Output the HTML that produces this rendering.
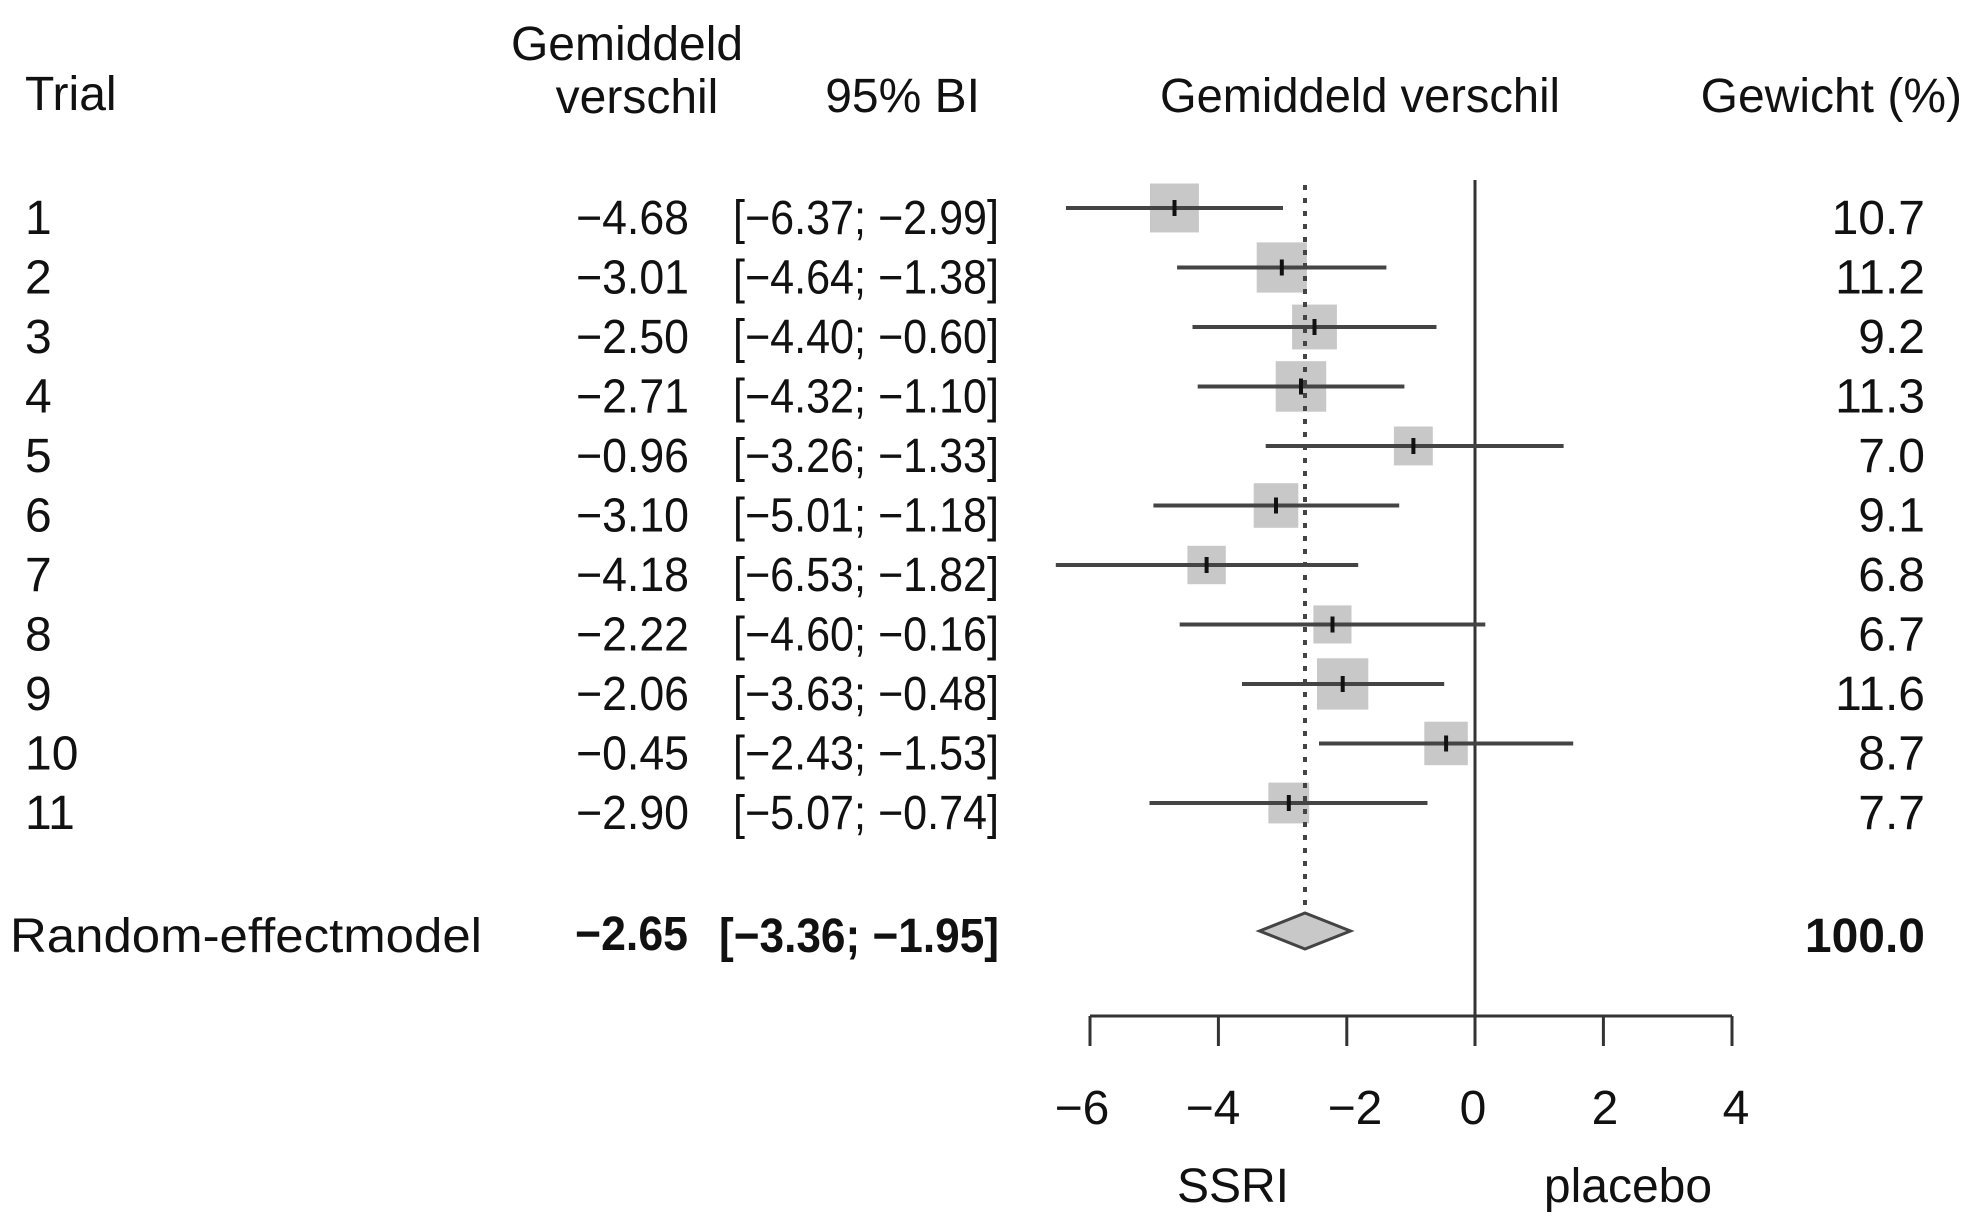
<!DOCTYPE html>
<html><head><meta charset="utf-8"><style>
html,body{margin:0;padding:0;background:#fff;}
svg{display:block;}
text{font-family:"Liberation Sans",sans-serif;fill:#111;font-size:48px;}
</style></head><body>
<svg width="1971" height="1222" viewBox="0 0 1971 1222" xmlns="http://www.w3.org/2000/svg">
<text x="25" y="110" font-size="50">Trial</text>
<text x="627" y="60" text-anchor="middle">Gemiddeld</text>
<text x="637" y="113" text-anchor="middle">verschil</text>
<text x="980" y="112" text-anchor="end">95% BI</text>
<text x="1360" y="112" text-anchor="middle" textLength="400" lengthAdjust="spacingAndGlyphs">Gemiddeld verschil</text>
<text x="1962" y="112" text-anchor="end">Gewicht (%)</text>

<g font-size="50">
<g text-anchor="end">
<text x="25" y="234" text-anchor="start">1</text><text x="689" y="234" textLength="113" lengthAdjust="spacingAndGlyphs">−4.68</text><text x="999" y="234" textLength="266" lengthAdjust="spacingAndGlyphs">[−6.37; −2.99]</text><text x="1925" y="234">10.7</text>
<text x="25" y="293.5" text-anchor="start">2</text><text x="689" y="293.5" textLength="113" lengthAdjust="spacingAndGlyphs">−3.01</text><text x="999" y="293.5" textLength="266" lengthAdjust="spacingAndGlyphs">[−4.64; −1.38]</text><text x="1925" y="293.5">11.2</text>
<text x="25" y="353" text-anchor="start">3</text><text x="689" y="353" textLength="113" lengthAdjust="spacingAndGlyphs">−2.50</text><text x="999" y="353" textLength="266" lengthAdjust="spacingAndGlyphs">[−4.40; −0.60]</text><text x="1925" y="353">9.2</text>
<text x="25" y="412.5" text-anchor="start">4</text><text x="689" y="412.5" textLength="113" lengthAdjust="spacingAndGlyphs">−2.71</text><text x="999" y="412.5" textLength="266" lengthAdjust="spacingAndGlyphs">[−4.32; −1.10]</text><text x="1925" y="412.5">11.3</text>
<text x="25" y="472" text-anchor="start">5</text><text x="689" y="472" textLength="113" lengthAdjust="spacingAndGlyphs">−0.96</text><text x="999" y="472" textLength="266" lengthAdjust="spacingAndGlyphs">[−3.26; −1.33]</text><text x="1925" y="472">7.0</text>
<text x="25" y="531.5" text-anchor="start">6</text><text x="689" y="531.5" textLength="113" lengthAdjust="spacingAndGlyphs">−3.10</text><text x="999" y="531.5" textLength="266" lengthAdjust="spacingAndGlyphs">[−5.01; −1.18]</text><text x="1925" y="531.5">9.1</text>
<text x="25" y="591" text-anchor="start">7</text><text x="689" y="591" textLength="113" lengthAdjust="spacingAndGlyphs">−4.18</text><text x="999" y="591" textLength="266" lengthAdjust="spacingAndGlyphs">[−6.53; −1.82]</text><text x="1925" y="591">6.8</text>
<text x="25" y="650.5" text-anchor="start">8</text><text x="689" y="650.5" textLength="113" lengthAdjust="spacingAndGlyphs">−2.22</text><text x="999" y="650.5" textLength="266" lengthAdjust="spacingAndGlyphs">[−4.60; −0.16]</text><text x="1925" y="650.5">6.7</text>
<text x="25" y="710" text-anchor="start">9</text><text x="689" y="710" textLength="113" lengthAdjust="spacingAndGlyphs">−2.06</text><text x="999" y="710" textLength="266" lengthAdjust="spacingAndGlyphs">[−3.63; −0.48]</text><text x="1925" y="710">11.6</text>
<text x="25" y="769.5" text-anchor="start">10</text><text x="689" y="769.5" textLength="113" lengthAdjust="spacingAndGlyphs">−0.45</text><text x="999" y="769.5" textLength="266" lengthAdjust="spacingAndGlyphs">[−2.43; −1.53]</text><text x="1925" y="769.5">8.7</text>
<text x="25" y="829" text-anchor="start">11</text><text x="689" y="829" textLength="113" lengthAdjust="spacingAndGlyphs">−2.90</text><text x="999" y="829" textLength="266" lengthAdjust="spacingAndGlyphs">[−5.07; −0.74]</text><text x="1925" y="829">7.7</text>
</g>
</g>

<g fill="#c8c8c8">
<rect x="1150.0" y="183.5" width="48.9" height="48.9"/>
<rect x="1256.7" y="242.4" width="50.2" height="50.2"/>
<rect x="1292.1" y="304.6" width="44.8" height="44.8"/>
<rect x="1275.7" y="361.2" width="50.5" height="50.5"/>
<rect x="1393.9" y="426.5" width="38.9" height="38.9"/>
<rect x="1253.7" y="483.2" width="44.6" height="44.6"/>
<rect x="1187.4" y="545.8" width="38.4" height="38.4"/>
<rect x="1313.4" y="605.4" width="38.1" height="38.1"/>
<rect x="1317.0" y="658.3" width="51.3" height="51.3"/>
<rect x="1424.3" y="721.7" width="43.5" height="43.5"/>
<rect x="1268.4" y="782.6" width="40.8" height="40.8"/>
</g>
<line x1="1475" y1="180" x2="1475" y2="1016" stroke="#333" stroke-width="3"/>
<line x1="1305" y1="185" x2="1305" y2="913" stroke="#444" stroke-width="4" stroke-dasharray="5,8"/>
<g stroke="#444" stroke-width="4">
<line x1="1066.0" y1="208" x2="1283.0" y2="208"/>
<line x1="1177.1" y1="267.5" x2="1386.4" y2="267.5"/>
<line x1="1192.5" y1="327" x2="1436.5" y2="327"/>
<line x1="1197.7" y1="386.5" x2="1404.4" y2="386.5"/>
<line x1="1265.7" y1="446" x2="1563.6" y2="446"/>
<line x1="1153.4" y1="505.5" x2="1399.2" y2="505.5"/>
<line x1="1055.8" y1="565" x2="1358.2" y2="565"/>
<line x1="1179.7" y1="624.5" x2="1485.3" y2="624.5"/>
<line x1="1242.0" y1="684" x2="1444.2" y2="684"/>
<line x1="1319.0" y1="743.5" x2="1573.2" y2="743.5"/>
<line x1="1149.5" y1="803" x2="1427.5" y2="803"/>
</g>
<g stroke="#111" stroke-width="4">
<line x1="1174.5" y1="200" x2="1174.5" y2="216"/>
<line x1="1281.8" y1="259.5" x2="1281.8" y2="275.5"/>
<line x1="1314.5" y1="319" x2="1314.5" y2="335"/>
<line x1="1301.0" y1="378.5" x2="1301.0" y2="394.5"/>
<line x1="1413.4" y1="438" x2="1413.4" y2="454"/>
<line x1="1276.0" y1="497.5" x2="1276.0" y2="513.5"/>
<line x1="1206.6" y1="557" x2="1206.6" y2="573"/>
<line x1="1332.5" y1="616.5" x2="1332.5" y2="632.5"/>
<line x1="1342.7" y1="676" x2="1342.7" y2="692"/>
<line x1="1446.1" y1="735.5" x2="1446.1" y2="751.5"/>
<line x1="1288.8" y1="795" x2="1288.8" y2="811"/>
</g>
<g stroke="#333" stroke-width="3" fill="none">
<line x1="1090" y1="1016" x2="1732" y2="1016"/>
<line x1="1090" y1="1016" x2="1090" y2="1046"/>
<line x1="1218.4" y1="1016" x2="1218.4" y2="1046"/>
<line x1="1346.8" y1="1016" x2="1346.8" y2="1046"/>
<line x1="1475" y1="1016" x2="1475" y2="1046"/>
<line x1="1603.4" y1="1016" x2="1603.4" y2="1046"/>
<line x1="1732" y1="1016" x2="1732" y2="1046"/>
</g>
<g text-anchor="middle">
<text x="1082" y="1124">−6</text><text x="1213" y="1124">−4</text><text x="1355" y="1124">−2</text>
<text x="1473" y="1124">0</text><text x="1605" y="1124">2</text><text x="1736" y="1124">4</text>
<text x="1233" y="1202">SSRI</text><text x="1628" y="1202">placebo</text>
</g>
<polygon points="1259.5,931 1305,913 1350.5,931 1305,949" fill="#c8c8c8" stroke="#444" stroke-width="3"/>
<text x="10" y="952" font-size="50" textLength="472" lengthAdjust="spacingAndGlyphs">Random-effectmodel</text>
<text x="688" y="950" text-anchor="end" font-weight="bold" font-size="50" textLength="113" lengthAdjust="spacingAndGlyphs">−2.65</text>
<text x="999" y="952" text-anchor="end" font-weight="bold" font-size="50" textLength="280" lengthAdjust="spacingAndGlyphs">[−3.36; −1.95]</text>
<text x="1925" y="952" text-anchor="end" font-weight="bold">100.0</text>
</svg>
</body></html>
